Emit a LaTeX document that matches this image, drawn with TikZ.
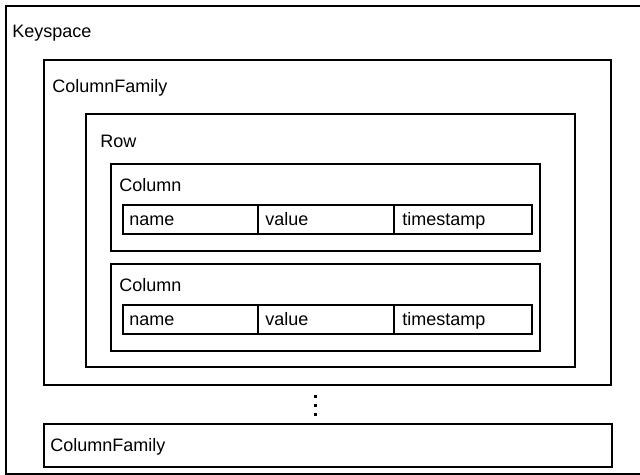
\documentclass[tikz,border=0pt]{standalone}
\usepackage{fontspec}
\setmainfont{Liberation Sans}
\usetikzlibrary{positioning}

\begin{document}
\begin{tikzpicture}[
    x=0.75pt,
    y=-0.75pt,
    box/.style={
        draw,
        line width=1.8pt,
        rectangle,
        inner sep=0pt,
        anchor=north west
    },
    cell/.style={
        box,
        minimum height=21.75pt
    },
    lbl/.style={
        anchor=base west,
        inner sep=0pt,
        font=\fontsize{13.5}{16}\selectfont
    }
]
%
    \useasboundingbox (0,0) rectangle (640,475);
    \clip (0,0) rectangle (640,475);
%
    \node[
        box,
        minimum width=477.75pt,
        minimum height=351pt
    ]
    (keyspace) at (5,5) {};
    \node[lbl] (keyspacelbl) at (12,37) {Keyspace};
%
    \node[
        box,
        minimum width=425.25pt,
        minimum height=243.75pt
    ]
    (cfam) at (43,59) {};
    \node[lbl] (cfamlbl) at (52,92) {ColumnFamily};
%
    \node[
        box,
        minimum width=366.75pt,
        minimum height=189.75pt
    ]
    (row) at (85,113) {};
    \node[lbl] (rowlbl) at (100,147) {Row};
%
    \foreach \cy/\cn in {163/1,263/2}{
        \node[
            box,
            minimum width=321.75pt,
            minimum height=65.25pt
        ]
        (col\cn) at (110,\cy) {};
        \node[lbl] (col\cn lbl) at (119,\cy+28) {Column};
        \node[cell, minimum width=101.25pt] (name\cn) at (122,\cy+41) {};
        \node[cell, minimum width=102pt] (value\cn) at (257,\cy+41) {};
        \node[cell, minimum width=103.5pt] (stamp\cn) at (393,\cy+41) {};
        \node[lbl] at (129,\cy+62) {name};
        \node[lbl] at (265,\cy+62) {value};
        \node[lbl] at (402,\cy+62) {timestamp};
    }
%
    \foreach \dy in {396,405,414}{
        \fill
        (313.5,\dy-1.5)
        rectangle
        ++(3,3);
    }
%
    \node[
        box,
        minimum width=426pt,
        minimum height=32.25pt
    ]
    (cfamb) at (43,423) {};
    \node[lbl] (cfamblbl) at (50,451) {ColumnFamily};
%
\end{tikzpicture}
\end{document}
